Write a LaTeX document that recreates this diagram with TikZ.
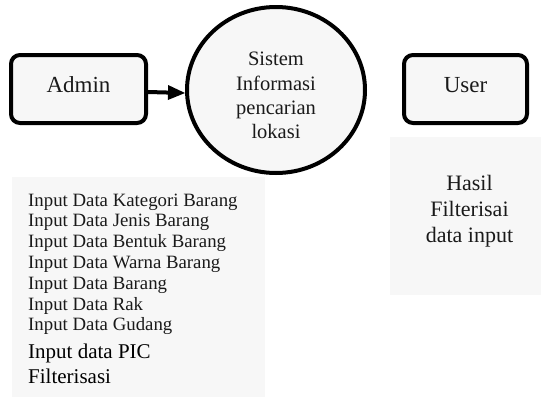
\documentclass[tikz,border=0pt]{standalone}
\usepackage{fontspec}
\setmainfont{Liberation Serif}
\usetikzlibrary{shapes.geometric,arrows.meta}
\definecolor{boxfill}{HTML}{F7F7F7}
\definecolor{txt}{HTML}{1A1A1A}
\begin{document}
\begin{tikzpicture}[x=1pt,y=-1pt,
  actor/.style={draw=black, line width=4pt, rounded corners=9pt, fill=boxfill,
    minimum height=68pt, inner sep=0pt, text=txt,
    text height=14pt, text depth=8pt, font=\fontsize{23}{27}\selectfont},
  panel/.style={fill=boxfill, draw=none, inner sep=0pt, anchor=north west},
  process/.style={ellipse, draw=black, line width=4pt, fill=boxfill,
    minimum width=178pt, minimum height=166pt, inner sep=0pt},
  proctext/.style={align=center, text=txt, inner sep=0pt,
    font=\fontsize{20.5}{24.3}\selectfont},
  listtext/.style={anchor=base west, inner sep=0pt, text=txt,
    font=\fontsize{18.8}{20}\selectfont},
  listbig/.style={anchor=base west, inner sep=0pt, text=black,
    font=\fontsize{21}{25}\selectfont},
  hasiltext/.style={align=center, text=txt, inner sep=0pt,
    font=\fontsize{22}{26}\selectfont},
  flow/.style={line width=4pt, -{Triangle[length=17pt,width=15pt,line width=0pt]}}
]
\useasboundingbox (0,0) rectangle (541,397);
\fill[white] (0,0) rectangle (541,397);

% background panels
\node[panel, minimum width=253pt, minimum height=220pt] (listpanel) at (12,177) {};
\node[panel, minimum width=151pt, minimum height=158pt] (hasilpanel) at (390,137) {};

% entities and process
\node[actor, minimum width=135pt] (admin) at (78.5,89) {Admin};
\node[actor, minimum width=123pt] (user) at (465.5,89) {User};
\node[process] (sys) at (276,90) {};
\node[proctext] (systext) at ([yshift=-5.5pt]sys.center) {Sistem\\Informasi\\pencarian\\lokasi};

% connector
\draw[flow] ([yshift=-3pt]admin.east) -- ([yshift=-3pt]sys.west);

% list of inputs
\foreach \t [count=\i] in {Input Data Kategori Barang, Input Data Jenis Barang,
  Input Data Bentuk Barang, Input Data Warna Barang, Input Data Barang,
  Input Data Rak, Input Data Gudang}
  \node[listtext] (item\i) at (28,{206+20.8*(\i-1)}) {\t};
\node[listbig] (item8) at (28,358.5) {Input data PIC};
\node[listbig] (item9) at (28,383) {Filterisasi};

% result text
\node[hasiltext] (hasil) at (469.5,211) {Hasil\\Filterisai\\data input};
\end{tikzpicture}
\end{document}
